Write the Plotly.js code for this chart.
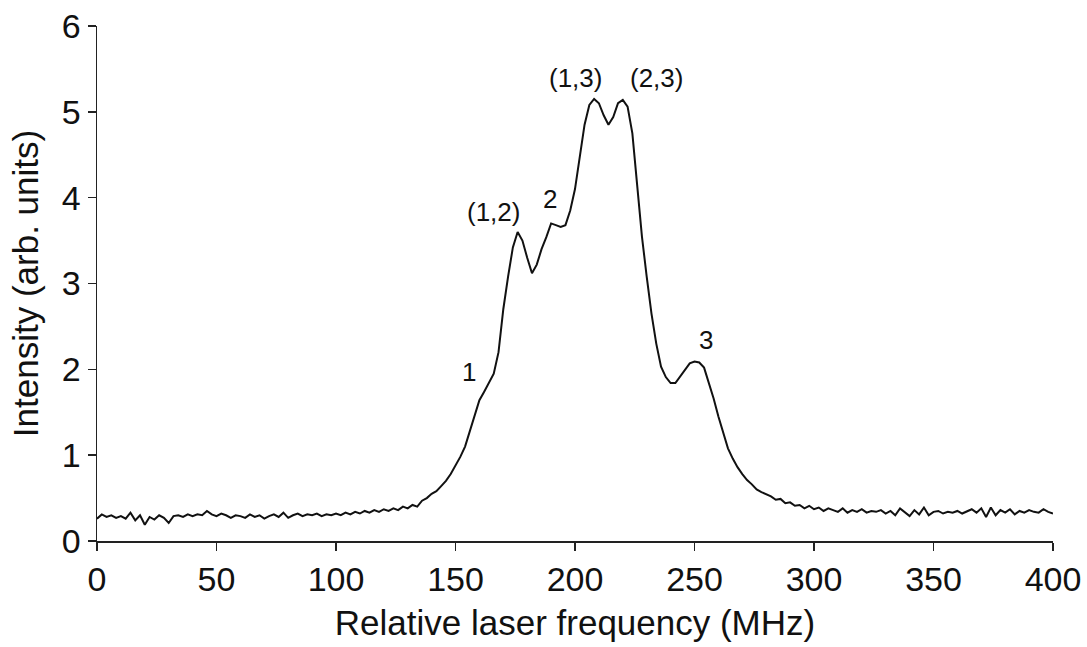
<!DOCTYPE html>
<html>
<head>
<meta charset="utf-8">
<script src="https://cdn.plot.ly/plotly-3.0.1.min.js"></script>
<style>html,body{margin:0;padding:0;background:#fff;}#chart{width:1087px;height:647px;}</style>
</head>
<body>
<div id="chart"></div>
<script>
// Relative laser frequency (MHz)
const freq = [
  0,2,4,6,8,10,12,14,16,18,20,22,24,26,28,30,32,34,36,38,
  40,42,44,46,48,50,52,54,56,58,60,62,64,66,68,70,72,74,76,78,
  80,82,84,86,88,90,92,94,96,98,100,102,104,106,108,110,112,114,116,118,
  120,122,124,126,128,130,132,134,136,138,140,142,144,146,148,150,152,154,156,158,
  160,162,164,166,168,170,172,174,176,178,180,182,184,186,188,190,192,194,196,198,
  200,202,204,206,208,210,212,214,216,218,220,222,224,226,228,230,232,234,236,238,
  240,242,244,246,248,250,252,254,256,258,260,262,264,266,268,270,272,274,276,278,
  280,282,284,286,288,290,292,294,296,298,300,302,304,306,308,310,312,314,316,318,
  320,322,324,326,328,330,332,334,336,338,340,342,344,346,348,350,352,354,356,358,
  360,362,364,366,368,370,372,374,376,378,380,382,384,386,388,390,392,394,396,398,
  400
];
// Intensity (arb. units)
const intensity = [
  0.26,0.31,0.28,0.30,0.27,0.29,0.26,0.33,0.24,0.30,0.19,0.28,0.25,0.30,0.27,0.21,0.29,0.30,0.28,0.31,
  0.29,0.31,0.30,0.35,0.31,0.29,0.32,0.30,0.27,0.30,0.29,0.27,0.31,0.28,0.30,0.26,0.29,0.31,0.28,0.33,
  0.27,0.30,0.32,0.29,0.31,0.30,0.32,0.29,0.31,0.30,0.32,0.30,0.33,0.31,0.34,0.32,0.35,0.33,0.36,0.34,
  0.37,0.35,0.38,0.36,0.40,0.38,0.42,0.40,0.47,0.50,0.55,0.58,0.64,0.70,0.78,0.88,0.98,1.10,1.28,1.46,
  1.64,1.74,1.84,1.95,2.20,2.70,3.08,3.42,3.60,3.50,3.30,3.12,3.22,3.40,3.54,3.70,3.68,3.66,3.68,3.85,
  4.10,4.48,4.85,5.08,5.15,5.10,4.96,4.85,4.94,5.10,5.14,5.06,4.75,4.15,3.55,3.08,2.65,2.30,2.03,1.91,
  1.84,1.84,1.92,2.00,2.07,2.09,2.08,2.02,1.85,1.66,1.45,1.25,1.08,0.96,0.86,0.78,0.71,0.66,0.60,0.57,
  0.54,0.52,0.48,0.49,0.44,0.45,0.41,0.42,0.38,0.41,0.37,0.39,0.35,0.38,0.36,0.34,0.38,0.33,0.36,0.34,
  0.37,0.33,0.35,0.34,0.36,0.32,0.35,0.30,0.38,0.33,0.29,0.36,0.31,0.39,0.30,0.34,0.35,0.32,0.34,0.33,
  0.35,0.32,0.35,0.37,0.33,0.38,0.28,0.39,0.30,0.36,0.33,0.37,0.31,0.35,0.33,0.36,0.34,0.33,0.37,0.34,
  0.32
];
// Peak labels
const peakLabels = ["1", "(1,2)", "2", "(1,3)", "(2,3)", "3"];
const peakLabelX = [155.6, 165.7, 189.5, 200.0, 234.3, 254.8];
const peakLabelY = [1.97, 3.83, 3.99, 5.40, 5.40, 2.34];

const xTicks = [0, 50, 100, 150, 200, 250, 300, 350, 400];
const yTicks = [0, 1, 2, 3, 4, 5, 6];

const FONT = "Liberation Sans, Arial, Helvetica, sans-serif";

const trace = {
  x: freq, y: intensity, type: "scatter", mode: "lines",
  line: {color: "#111", width: 2}, hoverinfo: "x+y"
};

const annotations = peakLabels.map((t, i) => ({
  x: peakLabelX[i], y: peakLabelY[i], xref: "x", yref: "y",
  text: t, showarrow: false,
  font: {family: FONT, size: 26, color: "#111"}
}));

const axisCommon = {
  showline: true, linecolor: "#222", linewidth: 1.5,
  ticks: "outside", ticklen: 8, tickwidth: 1.5, tickcolor: "#222",
  showgrid: false, zeroline: false, fixedrange: true,
  tickfont: {family: FONT, size: 34, color: "#111"}
};

const layout = {
  width: 1087, height: 647,
  margin: {l: 97, r: 34, t: 26, b: 106},
  paper_bgcolor: "#fff", plot_bgcolor: "#fff",
  showlegend: false,
  xaxis: Object.assign({}, axisCommon, {
    range: [0, 400], tickmode: "array", tickvals: xTicks, ticktext: xTicks.map(String),
    title: {text: "Relative laser frequency (MHz)", font: {family: FONT, size: 35, color: "#111"}, standoff: 13}
  }),
  yaxis: Object.assign({}, axisCommon, {
    range: [0, 6], tickmode: "array", tickvals: yTicks, ticktext: yTicks.map(String),
    title: {text: "Intensity (arb. units)", font: {family: FONT, size: 35, color: "#111"}, standoff: 12}
  }),
  annotations: annotations
};

Plotly.newPlot("chart", [trace], layout, {displayModeBar: false, staticPlot: true});
</script>
</body>
</html>
